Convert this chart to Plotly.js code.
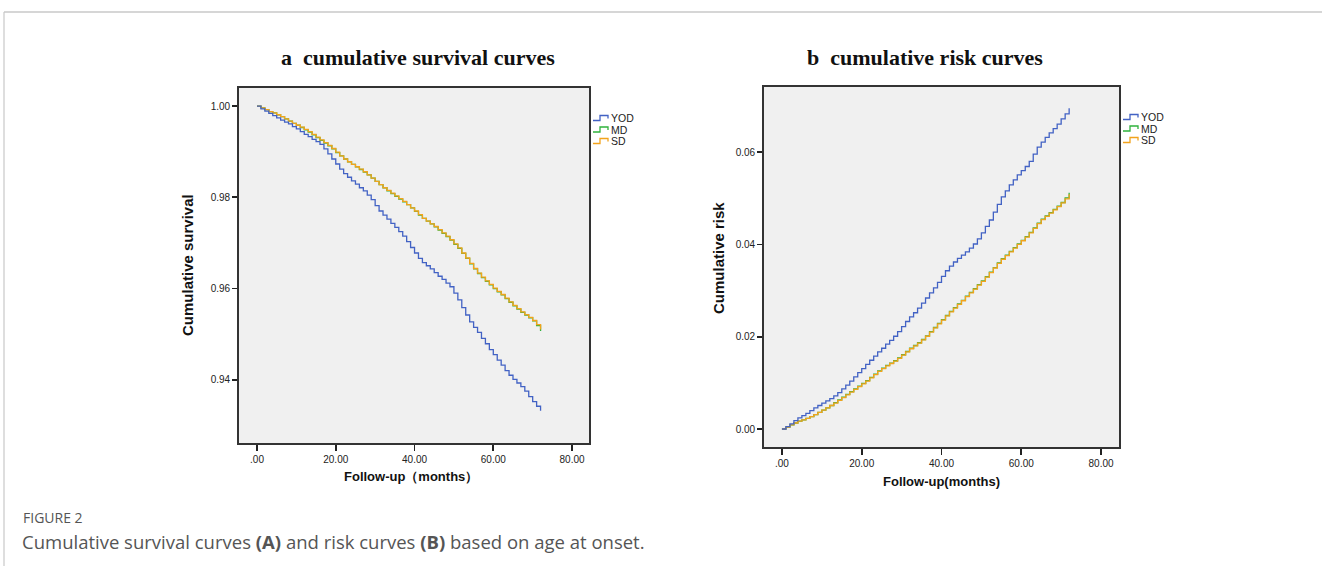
<!DOCTYPE html>
<html>
<head>
<meta charset="utf-8">
<script src="https://cdn.plot.ly/plotly-3.0.1.min.js"></script>
<style>html,body{margin:0;padding:0;background:#fff;}#chart{width:1322px;height:571px;}</style>
</head>
<body>
<div id="chart"></div>
<script>
// ---------- DATA ----------
const months = [0,1,2,3,4,5,6,7,8,9,10,11,12,13,14,15,16,17,18,19,20,21,22,23,24,25,26,27,28,29,30,31,32,33,34,35,36,37,38,39,40,41,42,43,44,45,46,47,48,49,50,51,52,53,54,55,56,57,58,59,60,61,62,63,64,65,66,67,68,69,70,71,72];
const groups = ["YOD","MD","SD"];

const survYOD = [1.0000,0.9994,0.9989,0.9984,0.9979,0.9974,0.9969,0.9965,0.9961,0.9955,0.9950,0.9944,0.9938,0.9933,0.9927,0.9922,0.9916,0.9906,0.9895,0.9884,0.9873,0.9862,0.9852,0.9844,0.9836,0.9829,0.9821,0.9814,0.9805,0.9795,0.9782,0.9770,0.9761,0.9752,0.9743,0.9734,0.9725,0.9715,0.9703,0.9690,0.9678,0.9666,0.9657,0.9650,0.9643,0.9635,0.9627,0.9620,0.9612,0.9604,0.9590,0.9575,0.9558,0.9542,0.9527,0.9515,0.9504,0.9491,0.9479,0.9466,0.9455,0.9443,0.9432,0.9420,0.9410,0.9401,0.9393,0.9385,0.9375,0.9363,0.9352,0.9342,0.9332];
const survMD  = [1.0000,0.9996,0.9992,0.9988,0.9985,0.9981,0.9977,0.9972,0.9967,0.9962,0.9958,0.9953,0.9948,0.9943,0.9937,0.9931,0.9925,0.9919,0.9913,0.9906,0.9898,0.9891,0.9884,0.9878,0.9872,0.9867,0.9861,0.9855,0.9849,0.9842,0.9835,0.9828,0.9821,0.9814,0.9808,0.9802,0.9796,0.9790,0.9784,0.9777,0.9769,0.9761,0.9754,0.9748,0.9742,0.9735,0.9728,0.9721,0.9714,0.9706,0.9697,0.9688,0.9677,0.9666,0.9654,0.9643,0.9633,0.9624,0.9616,0.9608,0.9600,0.9593,0.9586,0.9578,0.9570,0.9562,0.9555,0.9548,0.9542,0.9536,0.9529,0.9519,0.9507];
const survSD  = [1.0000,0.9996,0.9992,0.9988,0.9985,0.9981,0.9977,0.9972,0.9967,0.9962,0.9958,0.9954,0.9949,0.9944,0.9938,0.9932,0.9926,0.9920,0.9914,0.9907,0.9899,0.9891,0.9884,0.9878,0.9872,0.9867,0.9862,0.9856,0.9849,0.9842,0.9835,0.9828,0.9821,0.9815,0.9809,0.9803,0.9797,0.9791,0.9784,0.9777,0.9770,0.9762,0.9754,0.9748,0.9742,0.9736,0.9729,0.9722,0.9715,0.9707,0.9698,0.9689,0.9678,0.9667,0.9655,0.9644,0.9634,0.9625,0.9617,0.9609,0.9601,0.9594,0.9587,0.9579,0.9571,0.9563,0.9556,0.9549,0.9543,0.9537,0.9530,0.9521,0.9510];

const riskYOD = [0.0000,0.0005,0.0011,0.0018,0.0024,0.0029,0.0034,0.0040,0.0046,0.0051,0.0056,0.0061,0.0066,0.0072,0.0079,0.0087,0.0095,0.0104,0.0113,0.0122,0.0131,0.0140,0.0149,0.0158,0.0167,0.0175,0.0184,0.0192,0.0201,0.0211,0.0222,0.0233,0.0243,0.0252,0.0262,0.0273,0.0284,0.0295,0.0306,0.0318,0.0331,0.0343,0.0353,0.0362,0.0370,0.0377,0.0384,0.0392,0.0401,0.0412,0.0425,0.0439,0.0453,0.0470,0.0487,0.0503,0.0516,0.0529,0.0540,0.0551,0.0560,0.0569,0.0580,0.0596,0.0611,0.0622,0.0632,0.0642,0.0651,0.0661,0.0672,0.0683,0.0695];
const riskMD  = [0.0000,0.0004,0.0009,0.0013,0.0017,0.0020,0.0023,0.0027,0.0031,0.0036,0.0041,0.0046,0.0051,0.0057,0.0063,0.0069,0.0075,0.0081,0.0087,0.0093,0.0099,0.0105,0.0112,0.0119,0.0126,0.0132,0.0138,0.0143,0.0148,0.0154,0.0161,0.0168,0.0175,0.0181,0.0187,0.0194,0.0202,0.0211,0.0220,0.0229,0.0237,0.0246,0.0255,0.0263,0.0271,0.0279,0.0288,0.0296,0.0304,0.0313,0.0321,0.0330,0.0340,0.0350,0.0360,0.0369,0.0377,0.0385,0.0393,0.0401,0.0409,0.0417,0.0426,0.0436,0.0446,0.0455,0.0462,0.0469,0.0476,0.0483,0.0491,0.0501,0.0512];
const riskSD  = [0.0000,0.0004,0.0009,0.0013,0.0017,0.0020,0.0023,0.0027,0.0031,0.0036,0.0041,0.0046,0.0051,0.0056,0.0062,0.0068,0.0074,0.0080,0.0086,0.0092,0.0098,0.0104,0.0111,0.0118,0.0125,0.0131,0.0137,0.0142,0.0147,0.0153,0.0160,0.0167,0.0174,0.0180,0.0186,0.0193,0.0201,0.0210,0.0219,0.0228,0.0236,0.0245,0.0254,0.0262,0.0270,0.0278,0.0287,0.0295,0.0303,0.0312,0.0320,0.0329,0.0339,0.0349,0.0359,0.0368,0.0376,0.0384,0.0392,0.0400,0.0408,0.0416,0.0425,0.0435,0.0445,0.0454,0.0461,0.0468,0.0475,0.0482,0.0490,0.0499,0.0509];

const xTickVals = [0,20,40,60,80];
const xTickText = [".00","20.00","40.00","60.00","80.00"];
const survTickVals = [0.94,0.96,0.98,1.00];
const survTickText = ["0.94","0.96","0.98","1.00"];
const riskTickVals = [0.00,0.02,0.04,0.06];
const riskTickText = ["0.00","0.02","0.04","0.06"];

// ---------- STYLE ----------
const W = 1322, H = 571;
const px = v => v / W;
const py = v => 1 - v / H;
const colors = {YOD: "#4262c4", MD: "#2fb23c", SD: "#f2a31c"};
const tickFont = {family: "Liberation Sans, Arial, sans-serif", size: 10, color: "#222"};

function step(x, y, name, xa, ya) {
  return {x: x, y: y, name: name, type: "scatter", mode: "lines",
          line: {shape: "hv", color: colors[name], width: 1.3},
          xaxis: xa, yaxis: ya, showlegend: false, hoverinfo: "x+y+name"};
}

const data = [
  step(months, survMD, "MD", "x", "y"),
  step(months, survSD, "SD", "x", "y"),
  step(months, survYOD, "YOD", "x", "y"),
  step(months, riskMD, "MD", "x2", "y2"),
  step(months, riskSD, "SD", "x2", "y2"),
  step(months, riskYOD, "YOD", "x2", "y2")
];

function xaxisDef(domain) {
  return {domain: domain, range: [-4.57, 84.3], tickvals: xTickVals, ticktext: xTickText,
          ticks: "outside", ticklen: 6, tickwidth: 1.6, tickcolor: "#222",
          showline: true, mirror: true, linecolor: "#333", linewidth: 1.8,
          showgrid: false, zeroline: false, tickfont: tickFont, fixedrange: true};
}
function yaxisDef(domain, range, tv, tt) {
  return {domain: domain, range: range, tickvals: tv, ticktext: tt,
          ticks: "outside", ticklen: 5, tickwidth: 1.8, tickcolor: "#222",
          showline: true, mirror: true, linecolor: "#333", linewidth: 1.8,
          showgrid: false, zeroline: false, tickfont: tickFont, fixedrange: true};
}

const xa1 = xaxisDef([px(239), px(589)]);
const xa2 = xaxisDef([px(764), px(1119)]);
xa2.range = [-4.5, 84.5];
xa2.anchor = "y2";
const ya1 = yaxisDef([py(443), py(88)], [0.92615, 1.00396], survTickVals, survTickText);
const ya2 = yaxisDef([py(447), py(87)], [-0.0039, 0.07413], riskTickVals, riskTickText);
ya2.anchor = "x2";

// legend drawn as step icons + labels
const shapes = [];
const annotations = [];
function legendBlock(x0, yRows) {
  groups.forEach((g, i) => {
    const yc = yRows[i];
    const xs = [x0, x0 + 7, x0 + 7, x0 + 15, x0 + 15];
    const ys = [yc + 2.5, yc + 2.5, yc - 2.5, yc - 2.5, yc + 0.5];
    let path = "M" + px(xs[0]) + "," + py(ys[0]);
    for (let k = 1; k < xs.length; k++) path += " L" + px(xs[k]) + "," + py(ys[k]);
    shapes.push({type: "path", xref: "paper", yref: "paper", path: path,
                 line: {color: colors[g], width: 1.3}});
    annotations.push({xref: "paper", yref: "paper", x: px(x0 + 15.5), y: py(yc), text: g,
                      showarrow: false, xanchor: "left", yanchor: "middle",
                      font: {family: "Liberation Sans, Arial, sans-serif", size: 10.5, color: "#222"}});
  });
}
legendBlock(593, [118, 129.5, 141]);
legendBlock(1123, [117, 128.5, 140]);

// titles
const titleFont = {family: "Liberation Serif, Times New Roman, serif", size: 22, color: "#111"};
annotations.push({xref: "paper", yref: "paper", x: px(418), y: py(57), text: "<b>a  cumulative survival curves</b>",
                  showarrow: false, xanchor: "center", yanchor: "middle", font: titleFont});
annotations.push({xref: "paper", yref: "paper", x: px(925), y: py(57), text: "<b>b  cumulative risk curves</b>",
                  showarrow: false, xanchor: "center", yanchor: "middle", font: titleFont});

const axTitleFont = {family: "Liberation Sans, Arial, sans-serif", size: 15, color: "#111"};
annotations.push({xref: "paper", yref: "paper", x: px(188), y: py(265), text: "<b>Cumulative survival</b>",
                  showarrow: false, textangle: -90, xanchor: "center", yanchor: "middle", font: axTitleFont});
annotations.push({xref: "paper", yref: "paper", x: px(718), y: py(258), text: "<b>Cumulative risk</b>",
                  showarrow: false, textangle: -90, xanchor: "center", yanchor: "middle", font: axTitleFont});
const xTitleFont = {family: "Liberation Sans, Arial, sans-serif", size: 13, color: "#111"};
annotations.push({xref: "paper", yref: "paper", x: px(411), y: py(476), text: "<b>Follow-up（months）</b>",
                  showarrow: false, xanchor: "center", yanchor: "middle", font: xTitleFont});
annotations.push({xref: "paper", yref: "paper", x: px(941), y: py(481), text: "<b>Follow-up(months)</b>",
                  showarrow: false, xanchor: "center", yanchor: "middle", font: xTitleFont});

// caption
annotations.push({xref: "paper", yref: "paper", x: px(21), y: py(517), text: "FIGURE 2",
                  showarrow: false, xanchor: "left", yanchor: "middle",
                  font: {family: "Open Sans, Noto Sans, sans-serif", size: 14, color: "#555"}});
annotations.push({xref: "paper", yref: "paper", x: px(20), y: py(541),
                  text: "Cumulative survival curves <b>(A)</b> and risk curves <b>(B)</b> based on age at onset.",
                  showarrow: false, xanchor: "left", yanchor: "middle",
                  font: {family: "Open Sans, Noto Sans, sans-serif", size: 18.5, color: "#555"}});

// page frame lines
shapes.push({type: "line", xref: "paper", yref: "paper", x0: px(4), x1: 1, y0: py(12), y1: py(12),
             line: {color: "#c8c8c8", width: 1.5}});
shapes.push({type: "line", xref: "paper", yref: "paper", x0: px(4), x1: px(4), y0: py(12), y1: py(566),
             line: {color: "#c8c8c8", width: 1.2}});

const layout = {
  width: W, height: H, margin: {l: 0, r: 0, t: 0, b: 0},
  paper_bgcolor: "#ffffff", plot_bgcolor: "#f0f0f0",
  showlegend: false,
  xaxis: xa1, yaxis: ya1, xaxis2: xa2, yaxis2: ya2,
  shapes: shapes, annotations: annotations
};

Plotly.newPlot("chart", data, layout, {displayModeBar: false, staticPlot: true});
</script>
</body>
</html>
